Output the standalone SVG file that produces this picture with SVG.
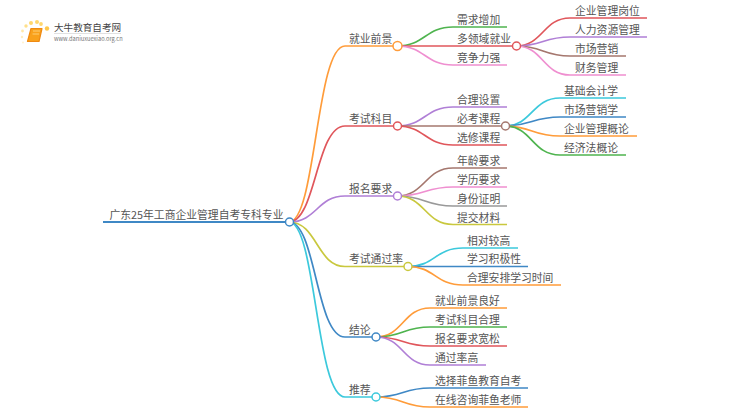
<svg xmlns="http://www.w3.org/2000/svg" width="750" height="410" viewBox="0 0 750 410">
<style>
text{font-family:"Noto Sans CJK SC","Noto Sans",sans-serif;font-size:10.8px;fill:#555}
.c{fill:none;stroke-width:1.7}
.n{fill:#fff;stroke-width:1.5}
.or{stroke:#ff9c3a}.rd{stroke:#e0565b}.pu{stroke:#b07fd6}.ol{stroke:#c9c83e}.bl{stroke:#3f88c5}.cy{stroke:#3cc9dc}.gr{stroke:#4fb44f}.pk{stroke:#ef8fd0}.br{stroke:#a5776e}.gy{stroke:#999}
</style>
<rect width="750" height="410" fill="#fff"/>
<g id="logo">
<circle cx="47" cy="28.500" r="2.200" fill="#ffc84a"/><circle cx="41" cy="24" r="1.900" fill="#ffd76e"/><circle cx="37" cy="22" r="2" fill="#ffd76e"/><circle cx="31" cy="23" r="2" fill="#ffd76e"/><circle cx="26" cy="26" r="1.700" fill="#ffe08a"/><circle cx="22.500" cy="31" r="1.400" fill="#ffe8a8"/><circle cx="22" cy="37" r="1.200" fill="#ffeec0"/><circle cx="23" cy="42.500" r="1" fill="#fff2d0"/>
<path d="M31 28.500H42L39 41.500H27.500Z" fill="#f9a11b" stroke="#ef8a12" stroke-width="1.200" stroke-linejoin="round"/>
<path d="M33 31H40M32.500 34H39" stroke="#ffd98a" stroke-width="0.800" fill="none"/>
<text x="54" y="31" style="font-size:9.6px;fill:#444">大牛教育自考网</text>
<path d="M54 33.500H121" stroke="#ccc" stroke-width="0.600"/>
<text x="54" y="41" style="font-size:5.7px;fill:#777">www.daniuxuexiao.org.cn</text>
</g>
<g id="connectors">
<path class="c bl" style="stroke-width:2.200" d="M103 222H289"/>
<path class="c or" d="M289 222C316 222 316 46 345 46H397"/>
<path class="c rd" d="M289 222C316 222 316 126 345 126H397"/>
<path class="c pu" d="M289 222C317 222 317 196 345 196H397"/>
<path class="c ol" d="M289 222C317 222 317 266.500 345 266.500H408"/>
<path class="c bl" d="M289 222C316 222 316 337 345 337H376"/>
<path class="c cy" d="M289 222C316 222 316 397 345 397H376"/>
<path class="c gr" d="M397 46C425 46 425 27 453 27H507"/>
<path class="c rd" d="M397 46H516"/>
<path class="c pk" d="M397 46C425 46 425 65 453 65H507"/>
<path class="c rd" d="M516 46C543 46 543 18 570 18H647"/>
<path class="c pu" d="M516 46C543 46 543 37 570 37H647"/>
<path class="c br" d="M516 46C543 46 543 56 570 56H626"/>
<path class="c pk" d="M516 46C543 46 543 75 570 75H626"/>
<path class="c pu" d="M397 126C425 126 425 107 453 107H507"/>
<path class="c br" d="M397 126H505"/>
<path class="c rd" d="M397 126C425 126 425 145 453 145H507"/>
<path class="c cy" d="M505 126C532 126 532 98 560 98H626"/>
<path class="c bl" d="M505 126C532 126 532 117 560 117H626"/>
<path class="c or" d="M505 126C532 126 532 136 560 136H637"/>
<path class="c gr" d="M505 126C532 126 532 155 560 155H626"/>
<path class="c br" d="M397 196C425 196 425 168 453 168H507"/>
<path class="c pk" d="M397 196C425 196 425 187 453 187H507"/>
<path class="c gy" d="M397 196C425 196 425 206 453 206H507"/>
<path class="c ol" d="M397 196C425 196 425 224.500 453 224.500H507"/>
<path class="c cy" d="M408 266.500C435 266.500 435 248 463 248H518"/>
<path class="c bl" d="M408 266.500H528"/>
<path class="c or" d="M408 266.500C435 266.500 435 285 463 285H561"/>
<path class="c or" d="M376 337C403 337 403 308 430 308H507"/>
<path class="c gr" d="M376 337C403 337 403 327 430 327H507"/>
<path class="c rd" d="M376 337C403 337 403 346 430 346H507"/>
<path class="c pu" d="M376 337C403 337 403 365 430 365H486"/>
<path class="c bl" d="M376 397C403 397 403 388 430 388H528"/>
<path class="c or" d="M376 397C403 397 403 407 430 407H528"/>
</g>
<g id="root"><text x="109.500" y="219">广东25年工商企业管理自考专科专业</text><circle class="n bl" cx="289.500" cy="222" r="4"/></g>
<g id="n1"><text x="349" y="43">就业前景</text><circle class="n or" cx="397.500" cy="46" r="4.500"/></g>
<g id="n11"><text x="457" y="24">需求增加</text></g>
<g id="n12"><text x="457" y="43">多领域就业</text><circle class="n rd" cx="516.500" cy="46" r="4"/></g>
<g id="n13"><text x="457" y="62">竞争力强</text></g>
<g id="n121"><text x="575" y="15">企业管理岗位</text></g>
<g id="n122"><text x="575" y="34">人力资源管理</text></g>
<g id="n123"><text x="575" y="53">市场营销</text></g>
<g id="n124"><text x="575" y="72">财务管理</text></g>
<g id="n2"><text x="349" y="123">考试科目</text><circle class="n rd" cx="397.500" cy="126" r="4"/></g>
<g id="n21"><text x="457" y="104">合理设置</text></g>
<g id="n22"><text x="457" y="123">必考课程</text><circle class="n br" cx="505.500" cy="126" r="4"/></g>
<g id="n23"><text x="457" y="142">选修课程</text></g>
<g id="n221"><text x="564" y="95">基础会计学</text></g>
<g id="n222"><text x="564" y="114">市场营销学</text></g>
<g id="n223"><text x="564" y="133">企业管理概论</text></g>
<g id="n224"><text x="564" y="152">经济法概论</text></g>
<g id="n3"><text x="349" y="193">报名要求</text><circle class="n pu" cx="397.500" cy="196" r="4"/></g>
<g id="n31"><text x="457" y="165">年龄要求</text></g>
<g id="n32"><text x="457" y="184">学历要求</text></g>
<g id="n33"><text x="457" y="203">身份证明</text></g>
<g id="n34"><text x="457" y="222">提交材料</text></g>
<g id="n4"><text x="349" y="263">考试通过率</text><circle class="n ol" cx="408" cy="266.500" r="4"/></g>
<g id="n41"><text x="467" y="245">相对较高</text></g>
<g id="n42"><text x="467" y="263">学习积极性</text></g>
<g id="n43"><text x="467" y="282">合理安排学习时间</text></g>
<g id="n5"><text x="349" y="334">结论</text><circle class="n bl" cx="376" cy="337" r="4"/></g>
<g id="n51"><text x="435" y="305">就业前景良好</text></g>
<g id="n52"><text x="435" y="324">考试科目合理</text></g>
<g id="n53"><text x="435" y="343">报名要求宽松</text></g>
<g id="n54"><text x="435" y="362">通过率高</text></g>
<g id="n6"><text x="349" y="394">推荐</text><circle class="n cy" cx="376" cy="397" r="4"/></g>
<g id="n61"><text x="435" y="385">选择菲鱼教育自考</text></g>
<g id="n62"><text x="435" y="404">在线咨询菲鱼老师</text></g>
</svg>
